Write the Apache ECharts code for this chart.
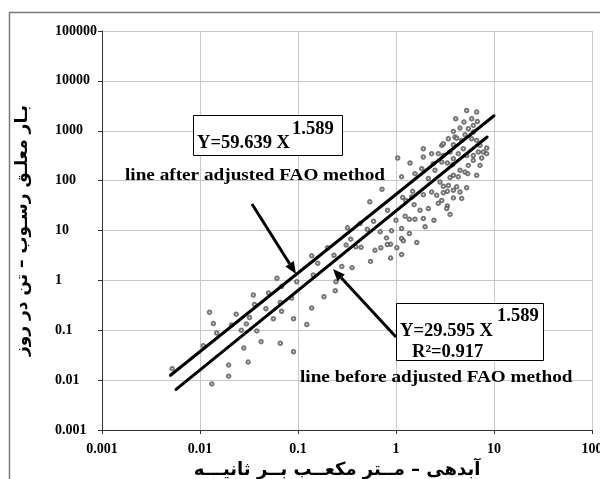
<!DOCTYPE html>
<html><head><meta charset="utf-8">
<script src="https://cdn.jsdelivr.net/npm/echarts@6/dist/echarts.min.js"></script>
<style>html,body{margin:0;padding:0;background:#fff;overflow:hidden}#c{width:600px;height:479px}</style>
</head><body><div id="c"></div>
<script>
// Observed discharge (m3/s) and suspended sediment load (t/day)
const dischargeObs = [
  0.0052,0.0125,0.0137,0.0148,0.0108,0.0132,0.0196,0.0196,0.021,0.0234,
  0.0264,0.028,0.031,0.0297,0.032,0.035,0.036,0.038,0.042,0.047,
  0.050,0.056,0.066,0.068,0.066,0.090,0.090,0.086,0.061,0.068,0.097,
  0.32,0.43,0.59,0.51,0.69,0.90,0.80,0.345,0.31,0.44,
  0.39,0.20,0.233,0.138,0.159,0.28,0.356,0.55,0.61,0.70,
  0.88,1.02,0.88,0.143,0.244,0.24,0.184,0.138,0.123,
  1.04,1.39,1.83,1.9,2.31,2.7,1.56,1.14,0.72,2.4,
  2.93,3.34,3.79,4.32,5.4,2.81,3.42,4.16,5.26,4.5,
  3.85,4.68,3.34,2.6,2.93,2.31,1.9,1.45,1.17,1.53,
  2.7,3.34,2.14,1.76,1.24,1.37,1.56,1.9,2.44,3.56,
  1.0,0.82,1.14,1.37,1.98,1.63,1.14,1.19,0.815,1.14,0.54,
  1.9,2.93,4.0,5.26,6.66,4.07,4.94,5.92,6.15,6.76,
  3.85,4.5,5.47,5.06,6.15,3.42,4.16,4.68,3.04,3.85,
  5.92,6.66,7.2,8.43,7.78,6.92,6.15,4.86,4.32,5.26,
  3.56,7.49,8.43,3.04,3.85,6.15,7.2,5.47,6.66,5.06,
  4.5,3.85,3.85,3.29,3.04,3.04,3.56,1.48,2.5,2.14,1.26
];
const loadObs = [
  0.017,0.23,0.136,0.088,0.049,0.0084,0.020,0.012,0.128,0.21,
  0.10,0.044,0.023,0.134,0.18,0.51,0.33,0.097,0.059,0.27,
  0.56,0.17,0.36,0.24,0.055,0.17,0.037,0.44,1.1,0.75,0.94,
  11.3,13.8,15.3,10.6,9.4,9.9,7.1,6.7,5.1,4.6,
  4.7,4.5,3.2,3.1,2.2,1.9,1.8,2.4,4.0,4.5,
  5.3,4.5,2.8,1.28,0.94,0.62,0.47,0.28,0.13,
  284,226,174,298,347,347,138,119,67,219,
  237,226,209,119,138,94,80,75,72,59,
  45,44,61,51,40,59,52,47,46,33,
  35,31,27.5,25.5,19.3,16.8,16.8,17.4,16,21,
  16,25.5,11,8.7,11.9,5.75,6.9,6.2,5.25,3.3,37.5,
  437,508,750,2550,2370,1740,1490,1740,1280,1530,
  970,1130,1100,830,940,690,710,640,550,525,
  690,640,510,450,375,375,320,437,347,320,
  375,284,347,320,275,255,202,202,128,149,
  161,128,64,27.5,77,57,115,61,161,110,40
];
// Fitted power-law lines (end points)
const fitAfterX = [0.005, 10];
const fitAfterY = [0.0125, 2000];
const fitBeforeX = [0.0057, 8.5];
const fitBeforeY = [0.0065, 750];

const xAxisName = 'آبدهی – مــتر مکعــب بــر ثانیـــه';
const yAxisName = 'بـار معلـق رسـوب – تن در روز';
const eqAfter = 'Y=59.639 X';
const eqBefore = 'Y=29.595 X';
const eqExp = '1.589';
const r2Text = 'R²=0.917';
const labelAfter = 'line after adjusted FAO method';
const labelBefore = 'line before adjusted FAO method';

const zip = (a, b) => a.map((v, i) => [v, b[i]]);
const fmt = v => String(Number(Number(v).toPrecision(6)));
const serifBold = 'bold 17px "Liberation Serif", "Times New Roman", serif';
const eqFont = 'bold 18px "Liberation Serif", "Times New Roman", serif';

const chart = echarts.init(document.getElementById('c'), null, {renderer: 'canvas'});
chart.setOption({
  animation: false,
  backgroundColor: '#fff',
  grid: {left: 102, top: 31, right: 8, bottom: 49, containLabel: false, outerBoundsMode: 'none'},
  xAxis: {
    type: 'log', logBase: 10, min: 0.001, max: 100,
    axisLine: {lineStyle: {color: '#333', width: 1}},
    axisTick: {show: true, length: 4, lineStyle: {color: '#333'}},
    minorTick: {show: false},
    splitLine: {show: true, lineStyle: {color: '#c8c8c8', width: 1}},
    axisLabel: {formatter: fmt, color: '#000', fontFamily: '"Liberation Serif", serif', fontWeight: 'bold', fontSize: 14, margin: 12},
    name: xAxisName, nameLocation: 'middle', nameGap: 27,
    nameTextStyle: {fontFamily: '"DejaVu Sans", sans-serif', fontWeight: 'bold', fontSize: 18, color: '#000', padding: [0, 20, 0, 0]}
  },
  yAxis: {
    type: 'log', logBase: 10, min: 0.001, max: 100000,
    axisLine: {show: true, lineStyle: {color: '#333', width: 1}},
    axisTick: {show: true, length: 4, lineStyle: {color: '#333'}},
    splitLine: {show: true, lineStyle: {color: '#c8c8c8', width: 1}},
    axisLabel: {formatter: fmt, color: '#000', fontFamily: '"Liberation Serif", serif', fontWeight: 'bold', fontSize: 14, margin: 47, align: 'left'},
    name: yAxisName, nameLocation: 'middle', nameGap: 71, nameRotate: 90,
    nameTextStyle: {fontFamily: '"DejaVu Sans", sans-serif', fontWeight: 'bold', fontSize: 17, color: '#000'}
  },
  series: [
    {type: 'scatter', data: zip(dischargeObs, loadObs), symbol: 'emptyCircle', symbolSize: 3.5,
     itemStyle: {color: '#555', borderWidth: 0.9}, z: 2},
    {type: 'line', data: zip(fitAfterX, fitAfterY), symbol: 'none',
     lineStyle: {color: '#000', width: 3, cap: 'round'}, z: 3},
    {type: 'line', data: zip(fitBeforeX, fitBeforeY), symbol: 'none',
     lineStyle: {color: '#000', width: 3, cap: 'round'}, z: 3}
  ],
  graphic: [
    {type: 'rect', silent: true, z: -10, shape: {x: 9.5, y: 12.5, width: 700, height: 600},
     style: {fill: 'none', stroke: '#7a7a7a', lineWidth: 1.5}},
    // upper equation box
    {type: 'rect', z: 10, shape: {x: 193.5, y: 115.5, width: 149, height: 40},
     style: {fill: '#fff', stroke: '#000', lineWidth: 1}},
    {type: 'text', z: 11, x: 197, y: 143, scaleX: 1.03,
     style: {text: eqAfter, font: eqFont, fill: '#000', textAlign: 'left', textVerticalAlign: 'middle'}},
    {type: 'text', z: 11, x: 292, y: 129, scaleX: 1.03,
     style: {text: eqExp, font: eqFont, fill: '#000', textAlign: 'left', textVerticalAlign: 'middle'}},
    {type: 'text', z: 11, x: 125, y: 176, scaleX: 1.13,
     style: {text: labelAfter, font: serifBold, fill: '#000', textAlign: 'left', textVerticalAlign: 'middle'}},
    // lower equation box
    {type: 'rect', z: 10, shape: {x: 396.5, y: 303.5, width: 147, height: 57},
     style: {fill: '#fff', stroke: '#000', lineWidth: 1}},
    {type: 'text', z: 11, x: 400, y: 331, scaleX: 1.03,
     style: {text: eqBefore, font: eqFont, fill: '#000', textAlign: 'left', textVerticalAlign: 'middle'}},
    {type: 'text', z: 11, x: 497, y: 316, scaleX: 1.03,
     style: {text: eqExp, font: eqFont, fill: '#000', textAlign: 'left', textVerticalAlign: 'middle'}},
    {type: 'text', z: 11, x: 412, y: 352, scaleX: 1.03,
     style: {text: r2Text, font: eqFont, fill: '#000', textAlign: 'left', textVerticalAlign: 'middle'}},
    {type: 'text', z: 11, x: 300, y: 378, scaleX: 1.13,
     style: {text: labelBefore, font: serifBold, fill: '#000', textAlign: 'left', textVerticalAlign: 'middle'}},
    // arrows
    {type: 'line', z: 12, shape: {x1: 252, y1: 204, x2: 289.6, y2: 263.8},
     style: {stroke: '#000', lineWidth: 3}},
    {type: 'polygon', z: 12, shape: {points: [[296, 274], [285.4, 266.5], [293.8, 261.1]]},
     style: {fill: '#000'}},
    {type: 'line', z: 12, shape: {x1: 396, y1: 337, x2: 341.2, y2: 277.8},
     style: {stroke: '#000', lineWidth: 3}},
    {type: 'polygon', z: 12, shape: {points: [[333, 269], [344.8, 274.4], [337.5, 281.2]]},
     style: {fill: '#000'}}
  ]
});
</script>
</body></html>
